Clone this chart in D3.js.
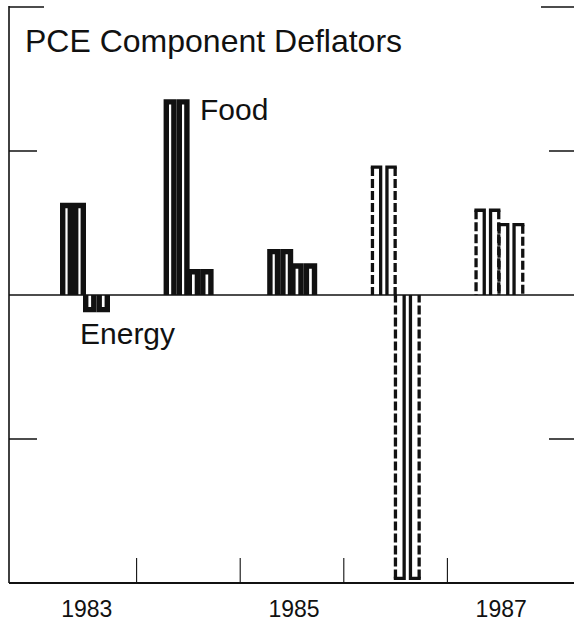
<!DOCTYPE html>
<html>
<head>
<meta charset="utf-8">
<script src="https://cdn.jsdelivr.net/npm/d3@7"></script>
<style>
  html, body { margin: 0; padding: 0; background: #fff; }
  svg { display: block; }
  text { font-family: "Liberation Sans", Arial, Helvetica, sans-serif; fill: #111; }
</style>
</head>
<body>
<svg id="chart" width="574" height="622"></svg>
<script>
// PCE component deflators, percent change by year
const years = ["1983", "1984", "1985", "1986", "1987"];
const food = [3.2, 6.8, 1.6, 4.5, 3.0];
const energy = [-0.6, 0.9, 1.1, -9.9, 2.5];
const yearLabels = ["1983", "", "1985", "", "1987"];
const projectedYears = ["1986", "1987"];
const gridTicks = [-5, 5];
const yDomain = [-10, 10];

const svg = d3.select("#chart");
const ink = "#111";

const frameLeft = 9, frameRight = 574;
const x = d3.scaleBand().domain(years).range([33, 551]).padding(0);
const y = d3.scaleLinear().domain(yDomain).range([583, 7]);

// frame: left rule, bottom rule, corner tick and edge ticks
svg.append("line")
  .attr("x1", frameLeft).attr("x2", frameLeft)
  .attr("y1", y(yDomain[1]) - 1).attr("y2", y(yDomain[0]))
  .attr("stroke", ink).attr("stroke-width", 1.6);
svg.append("line")
  .attr("x1", frameLeft).attr("x2", frameRight)
  .attr("y1", y(yDomain[0])).attr("y2", y(yDomain[0]))
  .attr("stroke", ink).attr("stroke-width", 1.8);
svg.append("line")
  .attr("x1", frameLeft).attr("x2", 44)
  .attr("y1", y(yDomain[1])).attr("y2", y(yDomain[1]))
  .attr("stroke", ink).attr("stroke-width", 1.6);
svg.append("line")
  .attr("x1", 541).attr("x2", frameRight)
  .attr("y1", y(yDomain[1])).attr("y2", y(yDomain[1]))
  .attr("stroke", ink).attr("stroke-width", 1.6);

gridTicks.forEach(t => {
  svg.append("line")
    .attr("x1", frameLeft).attr("x2", 37)
    .attr("y1", y(t)).attr("y2", y(t))
    .attr("stroke", ink).attr("stroke-width", 1.5);
  svg.append("line")
    .attr("x1", 549).attr("x2", frameRight)
    .attr("y1", y(t)).attr("y2", y(t))
    .attr("stroke", ink).attr("stroke-width", 1.5);
});

// year separators rising from the bottom rule
years.slice(1).forEach(yr => {
  svg.append("line")
    .attr("x1", x(yr)).attr("x2", x(yr))
    .attr("y1", y(yDomain[0])).attr("y2", y(yDomain[0]) - 25)
    .attr("stroke", ink).attr("stroke-width", 1.1);
});

// zero line
svg.append("line")
  .attr("x1", frameLeft).attr("x2", frameRight)
  .attr("y1", y(0)).attr("y2", y(0))
  .attr("stroke", ink).attr("stroke-width", 1.4);

// each value is drawn as a pair of narrow outlined columns open at the zero line
const series = [
  { name: "Food", values: food, offset: 27, width: 26 },
  { name: "Energy", values: energy, offset: 50, width: 27 }
];

function column(x0, w, v, sw) {
  const base = y(0);
  const top = y(v);
  const dir = top < base ? 1 : -1; // inset toward the baseline side
  return { xl: x0 + sw / 2, xr: x0 + w - sw / 2, yt: top + dir * sw / 2, base, sw };
}

series.forEach(s => {
  years.forEach((yr, i) => {
    const v = s.values[i];
    const projected = projectedYears.includes(yr);
    const x0 = x(yr) + s.offset;
    const g = svg.append("g");
    if (!projected) {
      const half = s.width / 2;
      [0, 1].forEach(k => {
        const c = column(x0 + k * half, half, v, 5.4);
        const p = d3.path();
        p.moveTo(c.xl, c.base); p.lineTo(c.xl, c.yt); p.lineTo(c.xr, c.yt); p.lineTo(c.xr, c.base);
        g.append("path").attr("d", p.toString())
          .attr("fill", "none").attr("stroke", ink).attr("stroke-width", c.sw)
          .attr("stroke-linejoin", "miter");
      });
    } else {
      const gap = 3;
      const sub = (s.width - gap) / 2;
      [0, 1].forEach(k => {
        const c = column(x0 + k * (sub + gap), sub, v, 3.3);
        const outerX = k === 0 ? c.xl : c.xr;
        const innerX = k === 0 ? c.xr : c.xl;
        // solid cap and inner side
        const p = d3.path();
        p.moveTo(outerX - (k === 0 ? c.sw / 2 : -c.sw / 2), c.yt); p.lineTo(innerX, c.yt); p.lineTo(innerX, c.base);
        g.append("path").attr("d", p.toString())
          .attr("fill", "none").attr("stroke", ink).attr("stroke-width", c.sw);
        // dashed outer side
        g.append("line")
          .attr("x1", outerX).attr("x2", outerX)
          .attr("y1", c.yt).attr("y2", c.base)
          .attr("stroke", ink).attr("stroke-width", c.sw)
          .attr("stroke-dasharray", "9,3");
      });
    }
  });
});

// titles and series labels
svg.append("text").attr("x", 25).attr("y", 52)
  .attr("font-size", 32).text("PCE Component Deflators");
svg.append("text").attr("x", 200).attr("y", 120)
  .attr("font-size", 30).text("Food");
svg.append("text").attr("x", 80).attr("y", 344)
  .attr("font-size", 30).text("Energy");

// year labels under alternate years
const xAxis = d3.axisBottom(x).tickSize(0).tickPadding(0)
  .tickFormat((d, i) => yearLabels[i]);
const axisG = svg.append("g").attr("transform", `translate(2,${y(yDomain[0]) + 18})`).call(xAxis);
axisG.select(".domain").remove();
axisG.selectAll("text")
  .attr("font-size", 23)
  .attr("font-family", "Liberation Sans, Arial, sans-serif")
  .attr("fill", ink)
  .attr("dy", "0.71em");
</script>
</body>
</html>
